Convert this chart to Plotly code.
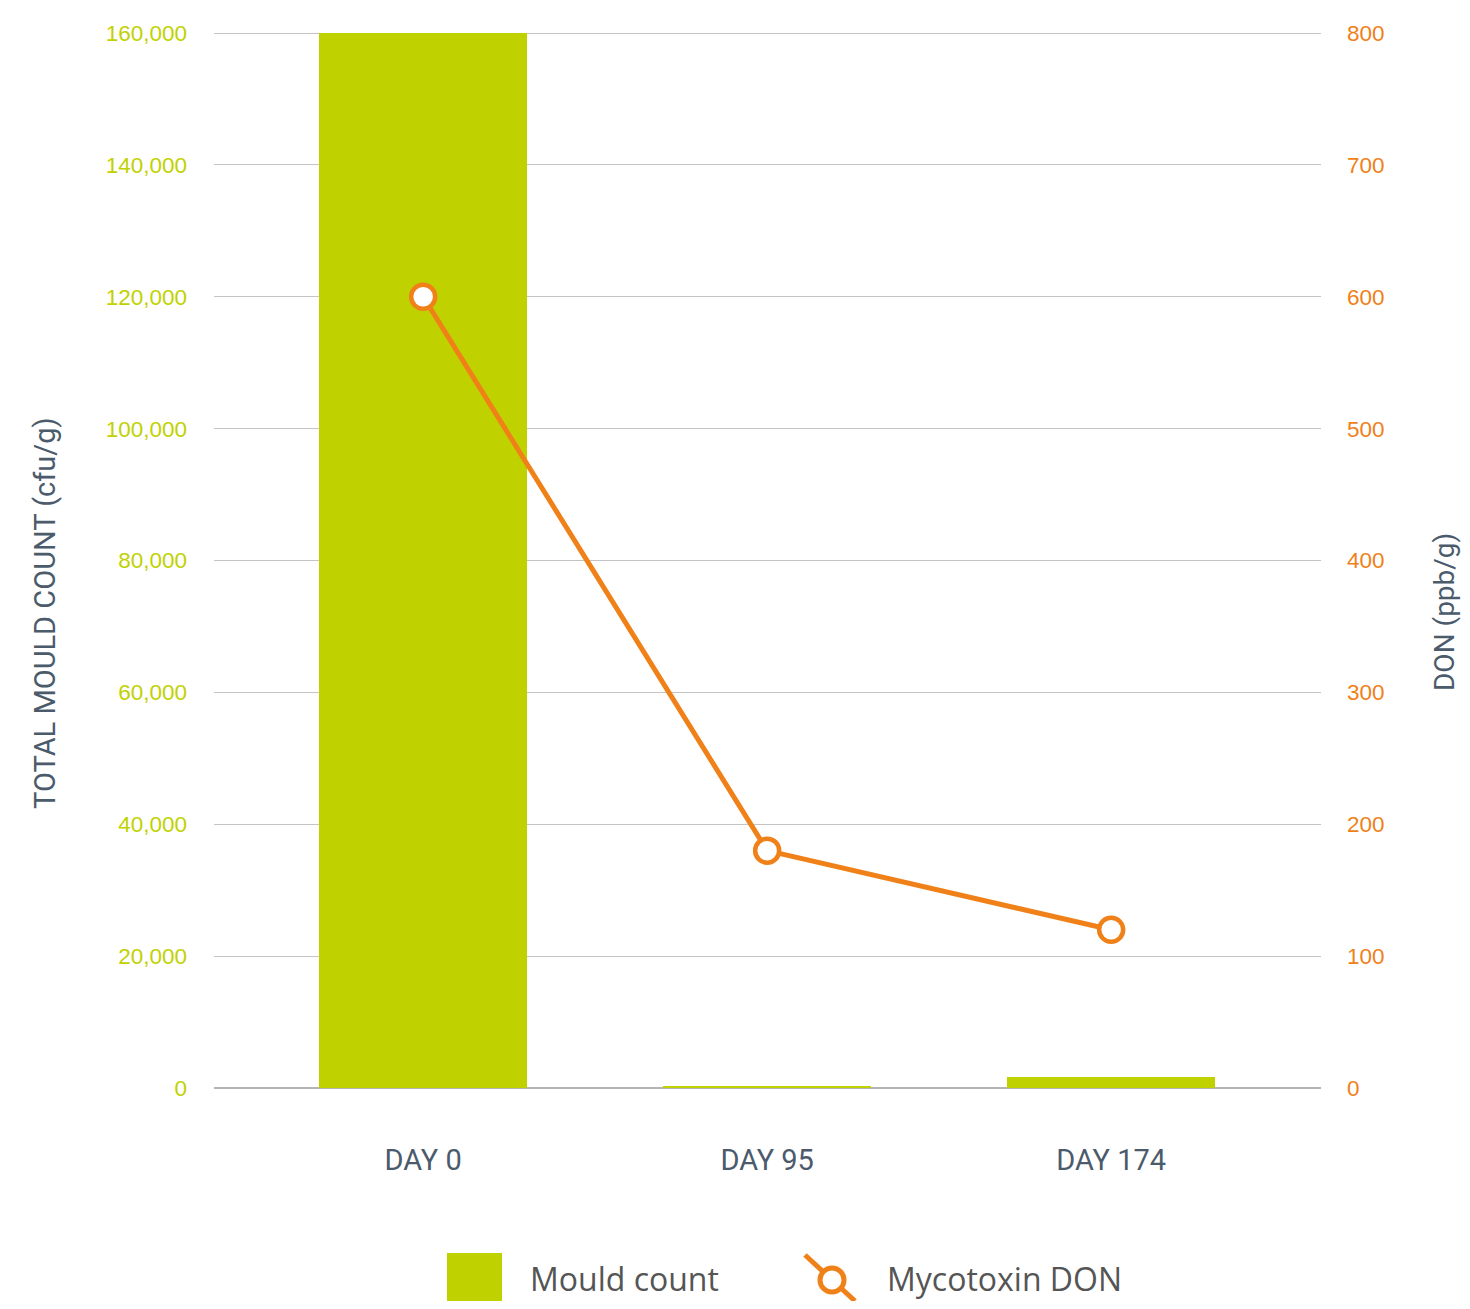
import plotly.graph_objects as go

categories = ["DAY 0", "DAY 95", "DAY 174"]
mould_count = [160000, 250, 1650]
don_ppb = [600, 180, 120]
left_ticks = [0, 20000, 40000, 60000, 80000, 100000, 120000, 140000, 160000]
right_ticks = [0, 100, 200, 300, 400, 500, 600, 700, 800]

GREEN = "#BFD200"
ORANGE = "#F08119"
SLATE = "#4B5B6B"
GRID = "#C4C4C4"

OFF = 8  # page body margin
W, H = 1470 - 2 * OFF, 1309 - 2 * OFF   # fit inside the window, no scrollbars
DATA_H = 1088 - 33          # pixel height of 0..160000
EXTRA = 4                   # headroom so the top gridline is drawn
EPS = 1 + EXTRA / DATA_H
L, T = 214 - OFF, 33 - OFF - EXTRA
R = W - (1321 - OFF)
B = H - (1088 - OFF)
pw, ph = W - L - R, H - T - B

def px(x):
    return (x - OFF - L) / pw

def py(y):
    return (H - B - (y - OFF)) / ph

fig = go.Figure()
fig.add_trace(go.Bar(
    x=categories, y=mould_count, name="Mould count",
    marker=dict(color=GREEN, line=dict(width=0)), width=0.605,
    yaxis="y", showlegend=False,
))
fig.add_trace(go.Scatter(
    x=categories, y=don_ppb, name="Mycotoxin DON", mode="lines+markers",
    line=dict(color=ORANGE, width=5),
    marker=dict(symbol="circle", size=24, color="white", line=dict(color=ORANGE, width=4.5)),
    yaxis="y2", showlegend=False, cliponaxis=False,
))

fig.update_layout(
    width=W, height=H,
    margin=dict(l=L, r=R, t=T, b=B, pad=0),
    paper_bgcolor="white", plot_bgcolor="white",
    font=dict(family="Open Sans, Liberation Sans, sans-serif"),
    xaxis=dict(
        range=[-0.608, 2.61], showgrid=False, zeroline=False, showline=False,
        ticks="", ticklabelstandoff=52,
        tickfont=dict(family="Roboto, Open Sans, sans-serif", size=29, color=SLATE),
    ),
    yaxis=dict(
        range=[0, 160000 * EPS], tickvals=left_ticks,
        ticktext=[f"{v:,}" for v in left_ticks],
        showgrid=True, gridcolor=GRID, gridwidth=1,
        zeroline=True, zerolinecolor="#B5B5B5", zerolinewidth=1.5,
        showline=False, ticks="", ticklabelstandoff=26,
        tickfont=dict(family="Liberation Sans, Arial, sans-serif", size=22.5, color=GREEN),
    ),
    yaxis2=dict(
        range=[0, 800 * EPS], tickvals=right_ticks, overlaying="y", side="right",
        showgrid=False, zeroline=False, showline=False, ticks="", ticklabelstandoff=25,
        tickfont=dict(family="Liberation Sans, Arial, sans-serif", size=22.5, color=ORANGE),
    ),
    bargap=0,
)

# Axis titles (placed like the reference, slightly below the vertical centre)
title_font = dict(family="Roboto, Open Sans, sans-serif", size=29, color=SLATE)
fig.add_annotation(xref="paper", yref="paper", x=px(45), y=py(613),
                   text="TOTAL MOULD COUNT (cfu/g)", textangle=-90, showarrow=False,
                   xanchor="center", yanchor="middle", font=title_font)
fig.add_annotation(xref="paper", yref="paper", x=px(1444), y=py(612),
                   text="DON (ppb/g)", textangle=-90, showarrow=False,
                   xanchor="center", yanchor="middle",
                   font=dict(family="Roboto, Open Sans, sans-serif", size=28, color=SLATE))

# Custom legend
fig.add_shape(type="rect", xref="paper", yref="paper",
              x0=px(447), x1=px(502), y0=py(1302), y1=py(1253),
              fillcolor=GREEN, line=dict(width=0))
fig.add_annotation(xref="paper", yref="paper", x=px(528), y=py(1279),
                   text="Mould count", showarrow=False, xanchor="left", yanchor="middle",
                   font=dict(family="Open Sans, sans-serif", size=32, color="#555555"))
fig.add_shape(type="line", xref="paper", yref="paper",
              x0=px(805), y0=py(1255), x1=px(855), y1=py(1301),
              line=dict(color=ORANGE, width=5))
fig.add_shape(type="circle", xref="paper", yref="paper",
              x0=px(820), x1=px(844), y0=py(1292), y1=py(1268),
              fillcolor="white", line=dict(color=ORANGE, width=5))
fig.add_annotation(xref="paper", yref="paper", x=px(885), y=py(1279),
                   text="Mycotoxin DON", showarrow=False, xanchor="left", yanchor="middle",
                   font=dict(family="Open Sans, sans-serif", size=32, color="#555555"))

fig.write_html("out.html")
